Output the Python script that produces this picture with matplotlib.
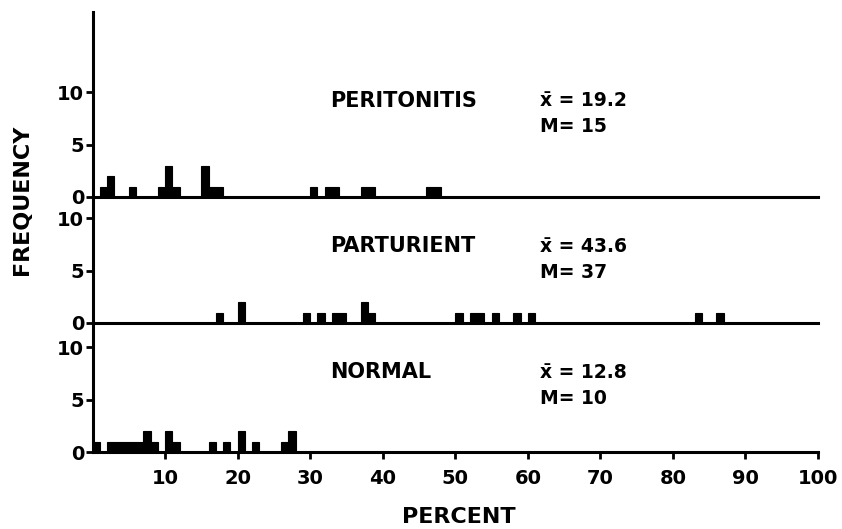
import matplotlib
matplotlib.use("Agg")
import matplotlib.pyplot as plt

# frequency of each percent value (bars span [pct, pct+1])
peritonitis_pct = [1, 2, 5, 9, 10, 11, 15, 16, 17, 30, 32, 33, 37, 38, 46, 47]
peritonitis_freq = [1, 2, 1, 1, 3, 1, 3, 1, 1, 1, 1, 1, 1, 1, 1, 1]

parturient_pct = [17, 20, 29, 31, 33, 34, 37, 38, 50, 52, 53, 55, 58, 60, 83, 86]
parturient_freq = [1, 2, 1, 1, 1, 1, 2, 1, 1, 1, 1, 1, 1, 1, 1, 1]

normal_pct = [0, 2, 3, 4, 5, 6, 7, 8, 10, 11, 16, 18, 20, 22, 26, 27]
normal_freq = [1, 1, 1, 1, 1, 1, 2, 1, 2, 1, 1, 1, 2, 1, 1, 2]

panel_names = ["PERITONITIS", "PARTURIENT", "NORMAL"]
panel_means = ["19.2", "43.6", "12.8"]
panel_medians = ["15", "37", "10"]

x_ticks = [10, 20, 30, 40, 50, 60, 70, 80, 90, 100]
y_ticks = [0, 5, 10]

plt.rcParams["font.family"] = ["DejaVu Sans"]
plt.rcParams["font.weight"] = "bold"

W, H = 842, 529
fig = plt.figure(figsize=(W / 100, H / 100), dpi=100)

x_left, x_right = 92.5, 818
px_per_freq = 10.5
# (top, bottom) of each panel in pixels
panel_px = [(12, 197), (197, 323), (323, 452)]
data = [
    (peritonitis_pct, peritonitis_freq),
    (parturient_pct, parturient_freq),
    (normal_pct, normal_freq),
]

for i, ((top, bot), (pct, freq)) in enumerate(zip(panel_px, data)):
    ax = fig.add_axes([x_left / W, 1 - bot / H, (x_right - x_left) / W, (bot - top) / H])
    ax.bar(pct, freq, width=1, align="edge", color="black", edgecolor="black", linewidth=0.8)
    ax.set_xlim(0, 100)
    ax.set_ylim(0, (bot - top) / px_per_freq)
    ax.patch.set_alpha(0)
    for s in ("top", "right"):
        ax.spines[s].set_visible(False)
    ax.spines["left"].set_linewidth(2.2)
    ax.spines["bottom"].set_linewidth(2.2)
    ax.set_yticks(y_ticks)
    ax.set_yticklabels([str(v) for v in y_ticks], fontsize=14, fontweight="bold")
    ax.tick_params(axis="y", direction="out", length=5, width=2, pad=1)
    if i < 2:
        ax.set_xticks([])
    else:
        ax.set_xticks(x_ticks)
        ax.set_xticklabels([str(v) for v in x_ticks], fontsize=14, fontweight="bold")
        ax.tick_params(axis="x", direction="out", length=5, width=2, pad=7)

    name_y = [101, 246, 372][i]
    fig.text(330 / W, 1 - name_y / H, panel_names[i], fontsize=15, fontweight="bold",
             va="center", ha="left")
    fig.text(540 / W, 1 - name_y / H, "x\u0304 = " + panel_means[i], fontsize=13.5,
             fontweight="bold", va="center", ha="left")
    fig.text(540 / W, 1 - (name_y + 26) / H, "M= " + panel_medians[i], fontsize=13.5,
             fontweight="bold", va="center", ha="left")

fig.text(22 / W, 1 - 200 / H, "FREQUENCY", rotation=90, fontsize=16, fontweight="bold",
         va="center", ha="center")
fig.text(459 / W, 1 - 517 / H, "PERCENT", fontsize=16, fontweight="bold",
         va="center", ha="center")

fig.savefig("out.png", dpi=100)
